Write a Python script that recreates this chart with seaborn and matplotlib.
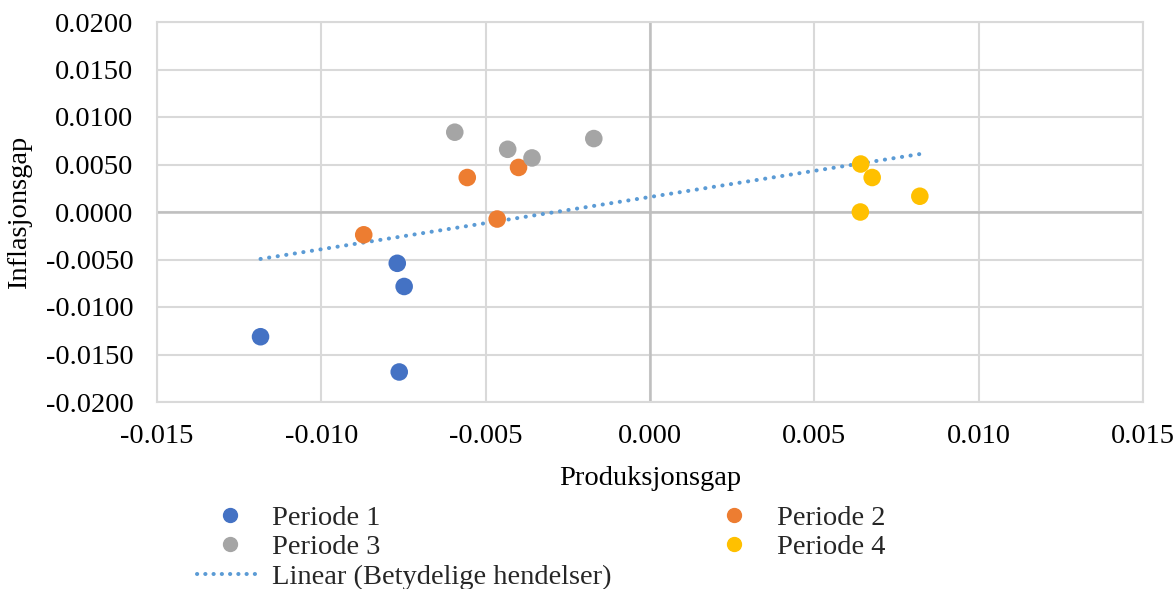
import numpy as np
import pandas as pd
import seaborn as sns
import matplotlib
matplotlib.use("Agg")
import matplotlib.pyplot as plt
from matplotlib.ticker import FormatStrFormatter, MultipleLocator
from matplotlib.lines import Line2D

# ---- data ----
periods = ["Periode 1", "Periode 2", "Periode 3", "Periode 4"]
p1_x = [-0.01185, -0.00769, -0.00748, -0.00763]
p1_y = [-0.01313, -0.00540, -0.00784, -0.01684]
p2_x = [-0.00871, -0.00556, -0.00400, -0.00465]
p2_y = [-0.00240, 0.00363, 0.00469, -0.00074]
p3_x = [-0.00594, -0.00433, -0.00359, -0.00171]
p3_y = [0.00840, 0.00660, 0.00569, 0.00773]
p4_x = [0.00641, 0.00676, 0.00640, 0.00821]
p4_y = [0.00505, 0.00363, 0.00000, 0.00166]
trend_x = [-0.01185, 0.00821]
trend_y = [-0.00494, 0.00610]
trend_label = "Linear (Betydelige hendelser)"
colors = ["#4472C4", "#ED7D31", "#A5A5A5", "#FFC000"]

df = pd.DataFrame({
    "x": p1_x + p2_x + p3_x + p4_x,
    "y": p1_y + p2_y + p3_y + p4_y,
    "period": sum([[p] * 4 for p in periods], []),
})

sns.set_theme(style="white")
plt.rcParams["font.family"] = ["Liberation Serif", "DejaVu Serif"]
plt.rcParams["axes.unicode_minus"] = False

FS = 20.5
fig = plt.figure(figsize=(11.76, 5.89), dpi=100)
ax = fig.add_axes([157 / 1176, 1 - 402 / 589, (1143 - 157) / 1176, (402 - 22) / 589])

grid_c = "#D9D9D9"
ax.set_xlim(-0.015, 0.015)
ax.set_ylim(-0.02, 0.02)
ax.xaxis.set_major_locator(MultipleLocator(0.005))
ax.yaxis.set_major_locator(MultipleLocator(0.005))
ax.xaxis.set_major_formatter(FormatStrFormatter("%.3f"))
ax.yaxis.set_major_formatter(FormatStrFormatter("%.4f"))
ax.grid(True, color=grid_c, linewidth=1.5, zorder=0)
for s in ax.spines.values():
    s.set_color(grid_c)
    s.set_linewidth(1.5)
ax.axhline(0, color="#BFBFBF", linewidth=1.8, zorder=1)
ax.axvline(0, color="#BFBFBF", linewidth=1.8, zorder=1)

sns.scatterplot(data=df, x="x", y="y", hue="period", palette=colors,
                s=160, edgecolor="none", ax=ax, legend=False, zorder=3)
sns.lineplot(x=trend_x, y=trend_y, ax=ax, color="#5B9BD5", linewidth=2.9,
             dashes=False, zorder=2)
line = ax.lines[-1]
line.set_linestyle((0, (0.05, 2.1)))
line.set_dash_capstyle("round")

ax.tick_params(axis="both", length=0, labelsize=FS, colors="black")
ax.tick_params(axis="y", pad=17)
ax.tick_params(axis="x", pad=16)
ax.set_xlabel("Produksjonsgap", fontsize=FS, labelpad=12, color="black")
ax.set_ylabel("Inflasjonsgap", fontsize=FS, labelpad=10, color="black")

handles = [Line2D([], [], marker="o", linestyle="none", color=c, markersize=10)
           for c in colors]
trend_h = Line2D([], [], color="#5B9BD5", linewidth=2.9,
                 linestyle=(0, (0.05, 2.0)), dash_capstyle="round")
order_h = [handles[0], handles[2], trend_h, handles[1], handles[3]]
order_l = [periods[0], periods[2], trend_label, periods[1], periods[3]]
fig.legend(order_h, order_l, ncol=2, loc="upper left",
           bbox_to_anchor=(197 / 1176, 1 - 505 / 589), frameon=False,
           fontsize=FS, handlelength=2.3, handletextpad=0.35,
           columnspacing=3.15, labelspacing=0.12, borderpad=0, borderaxespad=0)

fig.savefig("out.png", dpi=100)
